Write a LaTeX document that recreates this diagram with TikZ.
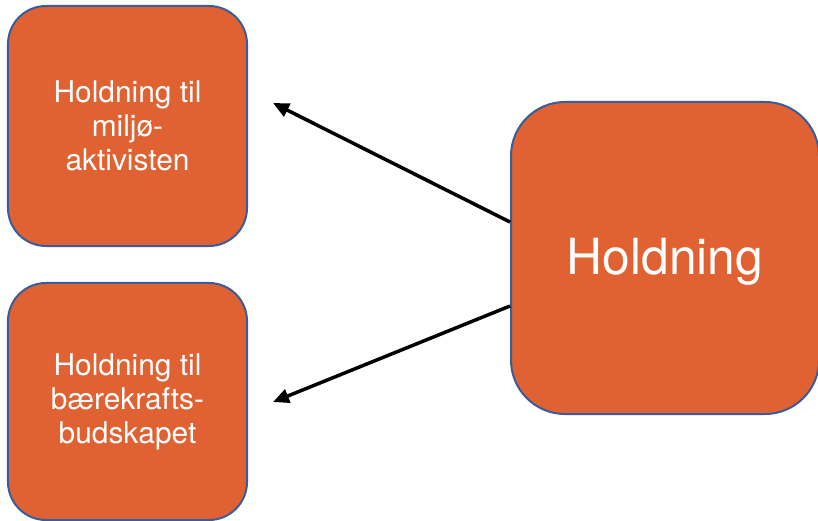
\documentclass[tikz,border=0pt]{standalone}
\usepackage{fontspec}
\setmainfont{TeX Gyre Heros}
\usetikzlibrary{arrows.meta}
\definecolor{boxfill}{HTML}{E06233}
\definecolor{boxline}{HTML}{3A5C98}
\begin{document}
\begin{tikzpicture}[x=1bp,y=-1bp,
  attbox/.style={draw=boxline, line width=2bp, fill=boxfill, text=white,
    rounded corners=38bp, minimum width=239bp, minimum height=240bp,
    align=center, inner sep=0pt, font=\fontsize{30}{34}\selectfont},
  bigbox/.style={attbox, rounded corners=54bp, minimum width=308bp,
    minimum height=312bp, font=\fontsize{50}{58}\selectfont},
  link/.style={line width=3.5bp, -{Triangle[length=16bp,width=14bp]}}]
\useasboundingbox (0,0) rectangle (818,521);
\node[attbox] (miljo) at (127.5,126) {Holdning til\\miljø-\\aktivisten};
\node[attbox, minimum height=237bp] (baere) at (127.5,401.5) {Holdning til\\bærekrafts-\\budskapet};
\node[bigbox] (hold) at (665,258) {};
\node[text=white, font=\fontsize{50}{58}\selectfont] (holdtxt) at ([yshift=-4bp]hold.center) {Holdning};
\coordinate (s1) at ([yshift=36bp]hold.west);
\coordinate (s2) at ([yshift=-48bp]hold.west);
\coordinate (t1) at (273,103);
\coordinate (t2) at (273,402);
\draw[link] (s1) -- (t1);
\draw[link] (s2) -- (t2);
\end{tikzpicture}
\end{document}
